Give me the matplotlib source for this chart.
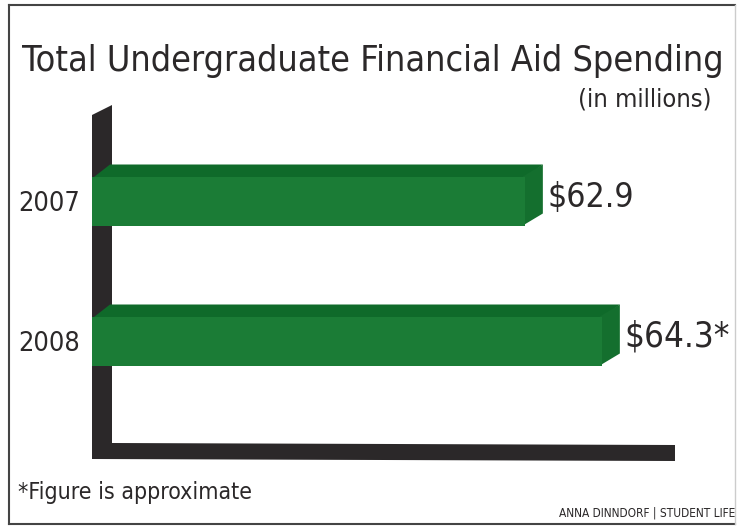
import matplotlib.pyplot as plt
from matplotlib.patches import Polygon
import numpy as np

years = ["2007", "2008"]
spending = [62.9, 64.3]
value_labels = ["$62.9", "$64.3*"]

W, H = 738, 527
font = "DejaVu Sans"
stretch = "condensed"
ink = "#2b2829"
front_col = "#1b7c36"
top_col = "#0f6a2a"
side_col = "#146f2e"


def fx(px):  # pixel -> figure fraction
    return px / W


def fy(py):
    return 1 - py / H


fig = plt.figure(figsize=(W / 100, H / 100), dpi=100)
fig.patch.set_facecolor("white")
renderer = fig.canvas.get_renderer()


def fit_width(txt, width_px):
    # the original uses a tall condensed face; shrink the text to the same width
    ext = txt.get_window_extent(renderer)
    txt.set_fontsize(txt.get_fontsize() * width_px / ext.width)


# plot region in pixels
left_px, right_px, top_px, bot_px = 92, 675, 105, 460
ax = fig.add_axes([fx(left_px), fy(bot_px), fx(right_px - left_px), (bot_px - top_px) / H])
ax.set_facecolor("none")

# scale of the graphic: bars do not start from zero
px_per_unit = 55.0
x0 = 55.03
ax.set_xlim(x0, x0 + (right_px - left_px) / px_per_unit)
row_px = 140.0
ax.set_ylim(1 + 119 / row_px, -96 / row_px)

bar_h = 49 / row_px
dx = 18 / px_per_unit
dy = 12 / row_px
ov_y = 2 / row_px      # small overlap so no seam shows between faces
ov_x = 2 / px_per_unit

# thick black L-shaped axis (behind the bars)
axis_shape = Polygon([(fx(92), fy(115)), (fx(112), fy(105)), (fx(112), fy(443)),
                      (fx(675), fy(445)), (fx(675), fy(461)), (fx(92), fy(459))],
                     closed=True, transform=fig.transFigure, facecolor=ink,
                     edgecolor="none", zorder=1, clip_on=False)
ax.add_patch(axis_shape)

ypos = np.arange(len(years))
ax.barh(ypos, [v - x0 for v in spending], left=x0, height=bar_h,
        color=front_col, linewidth=0, zorder=3)

for i, v in enumerate(spending):
    top = i - bar_h / 2
    bot = i + bar_h / 2
    ax.add_patch(Polygon([(x0, top + ov_y), (v, top + ov_y), (v + dx, top - dy),
                          (x0 + dx, top - dy)],
                         closed=True, facecolor=top_col, edgecolor="none", zorder=2.5))
    ax.add_patch(Polygon([(v - ov_x, top), (v + dx, top - dy), (v + dx, bot - dy),
                          (v - ov_x, bot)],
                         closed=True, facecolor=side_col, edgecolor="none", zorder=2.6))
    t = ax.text(v + dx + 5 / px_per_unit, i - 4 / row_px, value_labels[i],
                fontsize=30, family=font, stretch=stretch, color=ink,
                va="center", ha="left")
    fit_width(t, 87 if i == 0 else 105)

ax.set_yticks(ypos, labels=years, family=font, stretch=stretch, color=ink)
ax.tick_params(axis="y", length=0, pad=8.5)
for lab in ax.get_yticklabels():
    lab.set_fontsize(24)
    fit_width(lab, 62)
ax.set_xticks([])
for s in ax.spines.values():
    s.set_visible(False)

t = fig.text(fx(22), fy(61), "Total Undergraduate Financial Aid Spending",
             fontsize=30, family=font, stretch=stretch, color=ink,
             ha="left", va="center")
fit_width(t, 703)
t = fig.text(fx(712), fy(100), "(in millions)", fontsize=20, family=font,
             stretch=stretch, color=ink, ha="right", va="center")
fit_width(t, 134)
t = fig.text(fx(18), fy(492), "*Figure is approximate", fontsize=18, family=font,
             stretch=stretch, color=ink, ha="left", va="center")
fit_width(t, 234)
t = fig.text(fx(735), fy(513), "ANNA DINNDORF | STUDENT LIFE", fontsize=10,
             family=font, stretch=stretch, color=ink, ha="right", va="center")
fit_width(t, 178)

# thin frame round the graphic
fig.add_artist(plt.Line2D([fx(9), fx(735)], [fy(5), fy(5)], color="#444", lw=1.5))
fig.add_artist(plt.Line2D([fx(9), fx(9)], [fy(5), fy(524)], color="#444", lw=1.5))
fig.add_artist(plt.Line2D([fx(9), fx(735)], [fy(524), fy(524)], color="#444", lw=1.5))
fig.add_artist(plt.Line2D([fx(735), fx(735)], [fy(5), fy(524)], color="#ccc", lw=1))

fig.savefig("out.png", dpi=100, facecolor="white")
